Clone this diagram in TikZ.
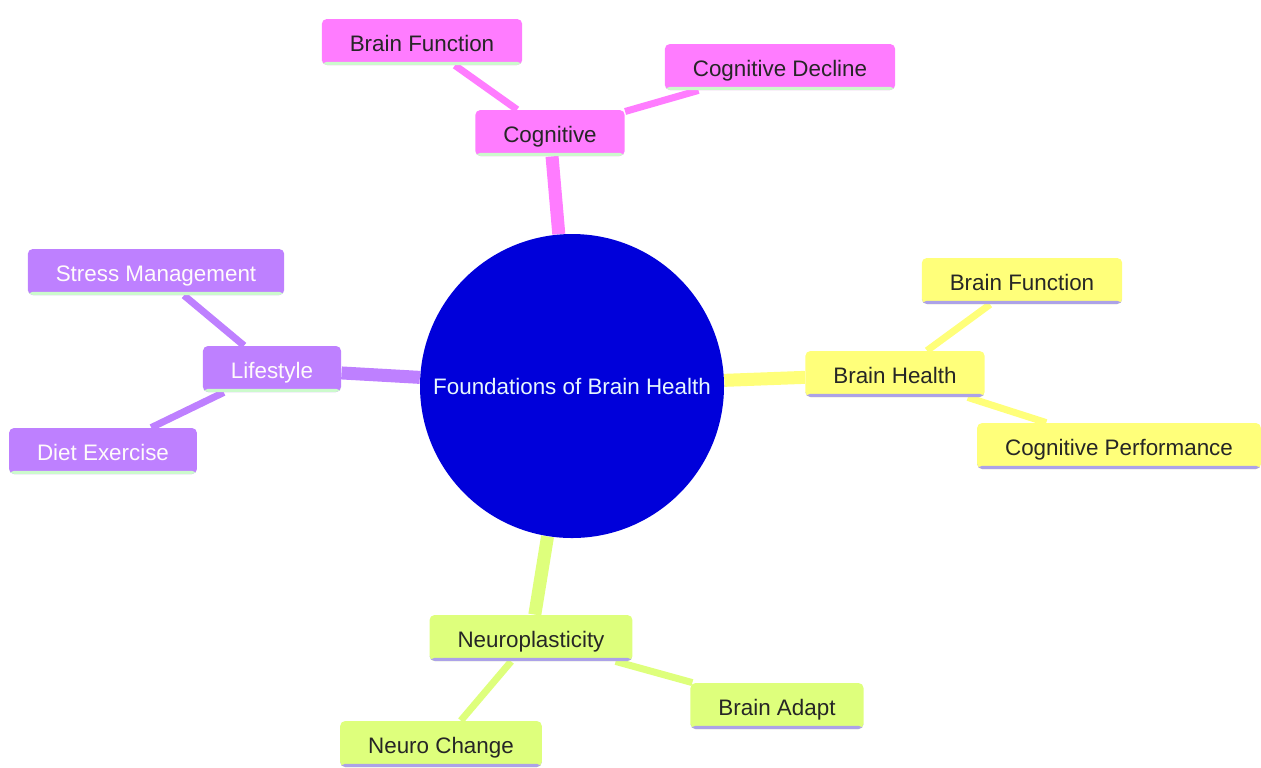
\documentclass[tikz,border=0pt]{standalone}
\usepackage{fontspec}
\setmainfont{Liberation Sans}
\usetikzlibrary{backgrounds}
\definecolor{rootblue}{RGB}{0,0,218}
\definecolor{cogpink}{RGB}{255,124,255}
\definecolor{healthyellow}{RGB}{255,255,122}
\definecolor{lifepurple}{RGB}{190,128,255}
\definecolor{neurolime}{RGB}{222,255,124}
\definecolor{lineGreen}{RGB}{204,250,204}
\definecolor{lineLav}{RGB}{172,162,232}
\newcommand{\mmfont}{\fontsize{11.2}{13}\selectfont}

\begin{document}
\begin{tikzpicture}[x=0.5pt, y=-0.5pt,
    root/.style={circle, fill=rootblue, text=white!90!cyan, minimum size=152pt, inner sep=0pt, font=\mmfont},
    topic/.style={rounded corners=2.5pt, fill=#1, minimum height=23pt, inner xsep=14pt, inner ysep=0pt, text height=10pt, text depth=1pt, font=\mmfont},
    under/.style={path picture={\fill[#1] ([yshift=1.6pt]path picture bounding box.south west) rectangle (path picture bounding box.south east);}},
    pinkbox/.style={topic=cogpink, under=lineGreen, text=black!85},
    yellowbox/.style={topic=healthyellow, under=lineLav, text=black!85},
    purplebox/.style={topic=lifepurple, under=lineGreen, text=white!93!pink},
    limebox/.style={topic=neurolime, under=lineLav, text=black!85},
    trunk/.style={line width=6.5pt, draw=#1},
    twig/.style={line width=3.5pt, draw=#1}
]
\useasboundingbox (0,0) rectangle (1261,767);

\node[root] (brain) at (572,386) {Foundations of Brain Health};

\node[pinkbox] (cog) at (550,133) {Cognitive};
\node[pinkbox] (cogfun) at (422,42) {Brain Function};
\node[pinkbox] (cogdec) at (780,67) {Cognitive Decline};

\node[yellowbox] (health) at (895,374) {Brain Health};
\node[yellowbox] (hfun) at (1022,281) {Brain Function};
\node[yellowbox] (hperf) at (1119,446) {Cognitive Performance};

\node[purplebox] (life) at (272,369) {Lifestyle};
\node[purplebox] (stress) at (156,272) {Stress Management};
\node[purplebox] (diet) at (103,451) {Diet Exercise};

\node[limebox] (neuro) at (531,638) {Neuroplasticity};
\node[limebox] (nchange) at (441,744) {Neuro Change};
\node[limebox] (adapt) at (777,706) {Brain Adapt};

\begin{scope}[on background layer]
\draw[trunk=cogpink] (brain) -- (cog);
\draw[trunk=healthyellow] (brain) -- (health);
\draw[trunk=lifepurple] (brain) -- (life);
\draw[trunk=neurolime] (brain) -- (neuro);
\draw[twig=cogpink] (cog) -- (cogfun);
\draw[twig=cogpink] (cog) -- (cogdec);
\draw[twig=healthyellow] (health) -- (hfun);
\draw[twig=healthyellow] (health) -- (hperf);
\draw[twig=lifepurple] (life) -- (stress);
\draw[twig=lifepurple] (life) -- (diet);
\draw[twig=neurolime] (neuro) -- (nchange);
\draw[twig=neurolime] (neuro) -- (adapt);
\end{scope}
\end{tikzpicture}
\end{document}
